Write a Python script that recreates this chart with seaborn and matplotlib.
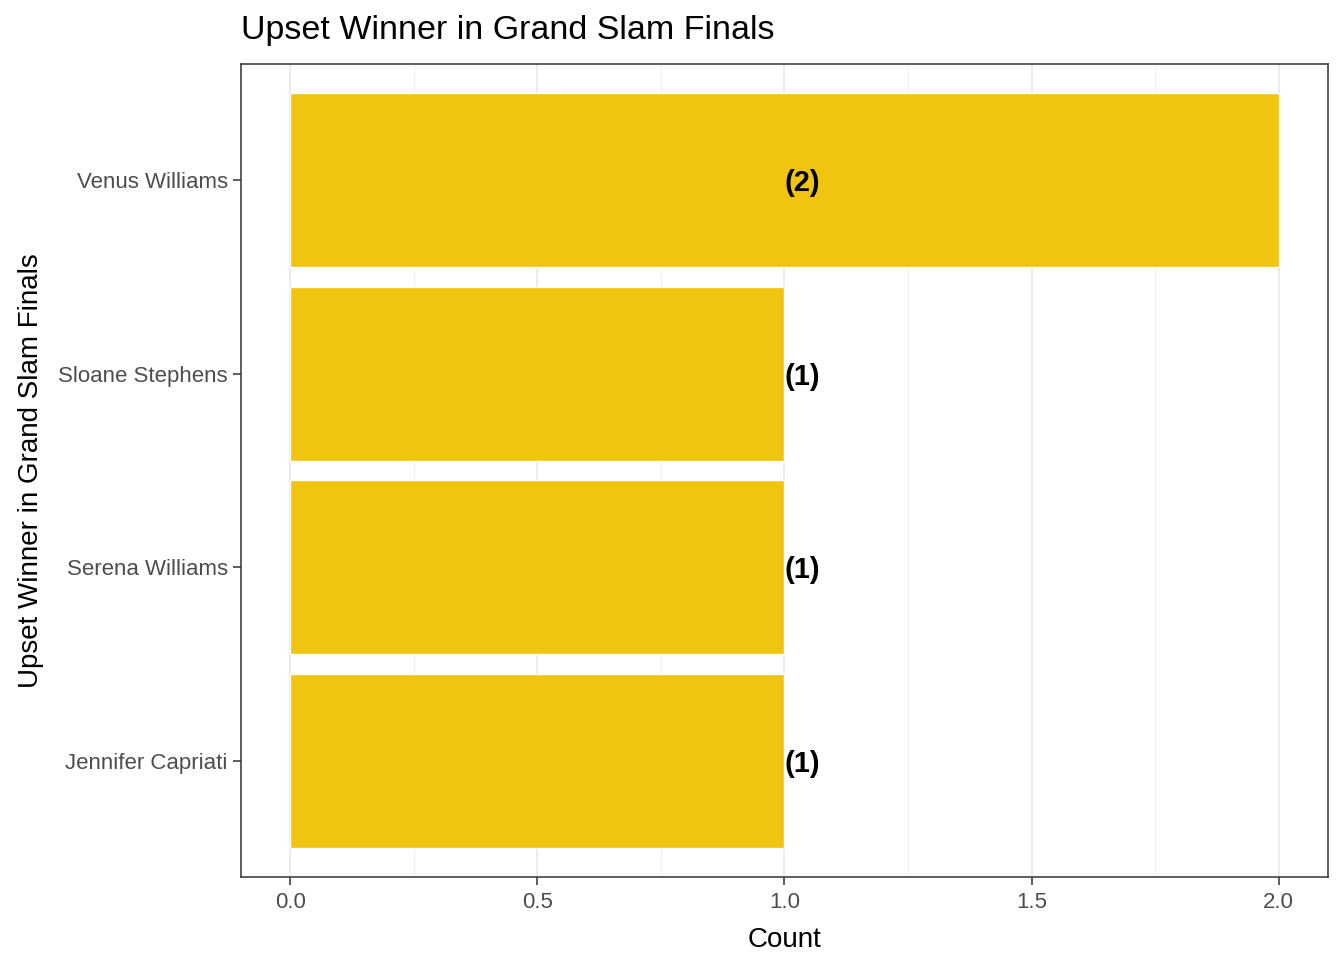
import pandas as pd
import matplotlib.pyplot as plt
import seaborn as sns
from matplotlib.ticker import MultipleLocator

players = ['Venus Williams', 'Sloane Stephens', 'Serena Williams', 'Jennifer Capriati']
counts = [2, 1, 1, 1]
labels = ['(2)', '(1)', '(1)', '(1)']

df = pd.DataFrame({'Player': players, 'Count': counts, 'Label': labels})

sns.set_style('white')
plt.rcParams['font.family'] = ['Liberation Sans', 'DejaVu Sans']

fig, ax = plt.subplots(figsize=(13.44, 9.6), dpi=100)
fig.subplots_adjust(left=0.1793, right=0.9881, top=0.9333, bottom=0.0865)

ax.set_axisbelow(True)
ax.xaxis.set_major_locator(MultipleLocator(0.5))
ax.xaxis.set_minor_locator(MultipleLocator(0.25))
ax.grid(axis='x', which='major', color='#EBEBEB', linewidth=1.4)
ax.grid(axis='x', which='minor', color='#F2F2F2', linewidth=0.8)
ax.grid(axis='y', which='major', color='#EBEBEB', linewidth=1.4)

sns.barplot(data=df, x='Count', y='Player', order=players, color='#F1C40F',
            saturation=1, width=0.9, ax=ax)

# labels all sit at x = 1 in the original
for i, lab in enumerate(df['Label']):
    ax.text(1.0, i, lab, ha='left', va='center_baseline', fontsize=21,
            fontweight='bold', color='black')

ax.set_xlim(-0.1, 2.1)
ax.set_ylim(3.6, -0.6)
ax.set_xticks([0, 0.5, 1.0, 1.5, 2.0])
ax.set_xticklabels(['0.0', '0.5', '1.0', '1.5', '2.0'])

for s in ax.spines.values():
    s.set_color('#333333')
    s.set_linewidth(1.1)

ax.tick_params(axis='both', which='major', labelsize=16, labelcolor='#4D4D4D',
               color='#333333', length=6, width=1.1, bottom=True, left=True)
ax.tick_params(axis='x', which='major', pad=5)
ax.tick_params(axis='x', which='minor', length=0)

ax.set_xlabel('Count', fontsize=20, color='black', labelpad=10)
ax.set_ylabel('Upset Winner in Grand Slam Finals', fontsize=20, color='black', labelpad=10)
ax.set_title('Upset Winner in Grand Slam Finals', fontsize=24.5, loc='left',
             pad=18, color='black')

plt.savefig('out.png', dpi=100)
